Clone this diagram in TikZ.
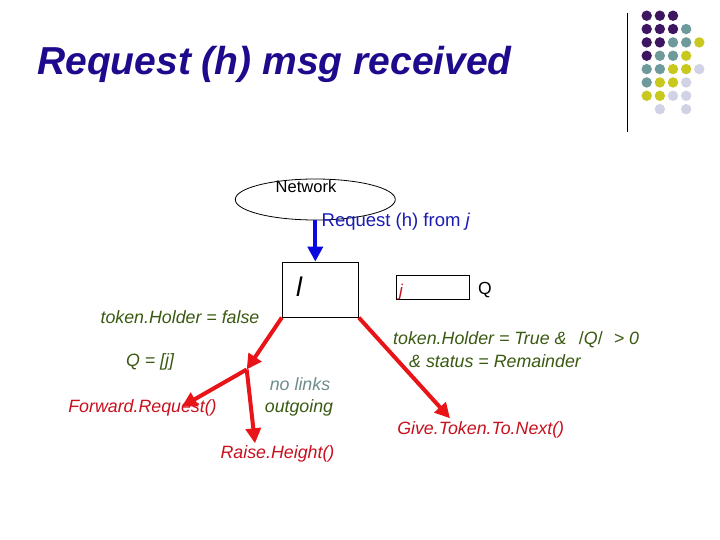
\documentclass[tikz,border=0pt]{standalone}
\usepackage{fontspec}
\setmainfont{Liberation Sans}
\usetikzlibrary{arrows.meta,shapes.geometric}
\definecolor{titleblue}{HTML}{1E0A8C}
\definecolor{txtgreen}{HTML}{3A5A12}
\definecolor{txtred}{HTML}{C8101E}
\definecolor{arrred}{HTML}{E81418}
\definecolor{arrblue}{HTML}{0A0AE0}
\definecolor{reqblue}{HTML}{1A1AB4}
\definecolor{greyteal}{HTML}{6E8C8C}
\definecolor{dpurple}{HTML}{3E1560}
\definecolor{dteal}{HTML}{6E9A9C}
\definecolor{dyellow}{HTML}{C8C81E}
\definecolor{dlav}{HTML}{D2D2E6}
\tikzset{
  lbl/.style={inner sep=0pt, font=\fontsize{17.8}{20}\selectfont\itshape},
  redarrow/.style={draw=arrred, line width=4pt, -{Triangle[length=15pt,width=15pt]}},
  bluearrow/.style={draw=arrblue, line width=4pt, -{Triangle[length=15pt,width=15pt]}},
  boxstyle/.style={draw=black, line width=1pt, inner sep=0pt},
}
\begin{document}
\begin{tikzpicture}[x=1pt,y=-1pt]
\useasboundingbox (0,0) rectangle (720,540);
\fill[white] (0,0) rectangle (720,540);
% title
\node[anchor=base west, inner sep=0pt, text=titleblue, font=\fontsize{39}{40}\selectfont\bfseries\itshape] (title) at (37,75) {Request (h) msg received};
% decoration
\draw[black, line width=1pt] (627.7,12.7) -- (627.7,131.7);
\foreach \c/\r/\col in {1/1/dpurple,2/1/dpurple,3/1/dpurple,
  1/2/dpurple,2/2/dpurple,3/2/dpurple,4/2/dteal,
  1/3/dpurple,2/3/dpurple,3/3/dteal,4/3/dteal,5/3/dyellow,
  1/4/dpurple,2/4/dteal,3/4/dteal,4/4/dyellow,
  1/5/dteal,2/5/dteal,3/5/dyellow,4/5/dyellow,5/5/dlav,
  1/6/dteal,2/6/dyellow,3/6/dyellow,4/6/dlav,
  1/7/dyellow,2/7/dyellow,3/7/dlav,4/7/dlav,
  2/8/dlav,4/8/dlav}
  \fill[\col] ({646.7+13.15*(\c-1)},{15.7+13.35*(\r-1)}) circle (5.2);
% network
\node[draw=black, line width=0.8pt, ellipse, minimum width=160pt, minimum height=41pt, inner sep=0pt] (net) at (315.3,199.5) {};
\node[inner sep=0pt, font=\fontsize{16.5}{18}\selectfont] (netlbl) at (306,186.5) {Network};
% box l
\node[boxstyle, minimum width=76pt, minimum height=55pt] (lbox) at (320.3,289.6) {};
\node[inner sep=0pt, font=\fontsize{27}{30}\selectfont\itshape] (lsym) at (299,287) {l};
% box j
\node[boxstyle, minimum width=73pt, minimum height=23.6pt] (jbox) at (432.6,287.5) {};
\node[inner sep=0pt, text=txtred, font=\fontsize{17}{20}\selectfont\itshape] (jsym) at (401,292) {j};
\node[inner sep=0pt, font=\fontsize{17.5}{20}\selectfont] (qsym) at (485,290) {Q};
% blue request arrow
\draw[bluearrow] (net.south) -- (net.south |- lbox.north);
\node[anchor=base west, inner sep=0pt, text=reqblue, font=\fontsize{18.5}{20}\selectfont] (req) at (321.5,226) {Request (h) from \textit{j}};
% labels
\node[lbl, text=txtgreen] (tfalse) at (180,317) {token.Holder = false};
\node[lbl, text=txtgreen] (qj) at (150,362) {Q = [\textit{j}]};
\node[lbl, text=txtred] (fwd) at (142.5,408) {Forward.Request()};
\node[lbl, text=greyteal] (nolinks) at (300,384.5) {no links};
\node[lbl, text=txtgreen] (outg) at (299,408) {outgoing};
\node[lbl, text=txtred] (raise) at (277.5,454) {Raise.Height()};
\node[lbl, text=txtgreen, anchor=west] (ttrue) at (393,340) {token.Holder = True \&\hspace{0.7em}\textup{/}Q\textup{/}\hspace{0.35em} > 0};
\node[lbl, text=txtgreen, anchor=west] (status) at (409,361.5) {\& status = Remainder};
\node[lbl, text=txtred] (give) at (480.7,429.5) {Give.Token.To.Next()};
% red arrows
\coordinate (junc) at (246.7,369.5);
\coordinate (fwdtip) at (181.7,406.7);
\coordinate (raisetip) at (255,443.3);
\coordinate (givetip) at (450,418.3);
\draw[redarrow] (lbox.south west) -- (junc);
\draw[redarrow] (junc) -- (fwdtip);
\draw[redarrow] (junc) -- (raisetip);
\draw[redarrow] (lbox.south east) -- (givetip);
\end{tikzpicture}
\end{document}
